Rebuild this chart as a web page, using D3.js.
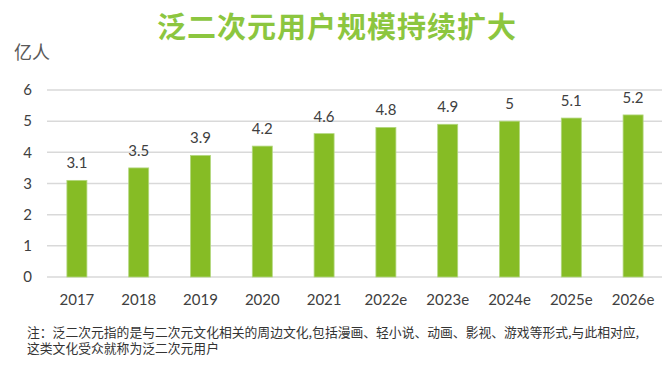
<!DOCTYPE html>
<html>
<head>
<meta charset="utf-8">
<script src="https://cdn.jsdelivr.net/npm/d3@7"></script>
<style>
  html, body { margin: 0; padding: 0; background: #fff; }
  svg { display: block; }
</style>
</head>
<body>
<svg id="chart" width="664" height="366"></svg>
<script>
const categories = ["2017", "2018", "2019", "2020", "2021", "2022e", "2023e", "2024e", "2025e", "2026e"];
const values = [3.1, 3.5, 3.9, 4.2, 4.6, 4.8, 4.9, 5, 5.1, 5.2];
const yTicks = [0, 1, 2, 3, 4, 5, 6];
const titleText = "泛二次元用户规模持续扩大";
const unitText = "亿人";
const noteLines = [
  "注：泛二次元指的是与二次元文化相关的周边文化,包括漫画、轻小说、动画、影视、游戏等形式,与此相对应,",
  "这类文化受众就称为泛二次元用户"
];

const svg = d3.select("#chart");
const cjk = "'Noto Sans CJK SC', 'Noto Sans', sans-serif";
const numFont = "Lato, 'Open Sans', sans-serif";

const x = d3.scaleBand().domain(categories).range([46, 664]).padding(0);
const y = d3.scaleLinear().domain([0, 6]).range([277, 90]);
const barW = 20;

// gridlines
svg.append("g")
  .selectAll("line")
  .data(yTicks)
  .join("line")
  .attr("x1", 47).attr("x2", 662)
  .attr("y1", d => y(d)).attr("y2", d => y(d))
  .attr("stroke", "#d9d9d9")
  .attr("stroke-width", 1.5);

// y tick labels
svg.append("g")
  .selectAll("text")
  .data(yTicks)
  .join("text")
  .attr("x", 32)
  .attr("y", d => y(d))
  .attr("dy", "0.35em")
  .attr("text-anchor", "end")
  .attr("font-family", numFont)
  .attr("font-size", 15)
  .attr("fill", "#404040")
  .text(d => d);

// bars
svg.append("g")
  .selectAll("rect")
  .data(values)
  .join("rect")
  .attr("x", (d, i) => x(categories[i]) + x.bandwidth() / 2 - barW / 2)
  .attr("y", d => y(d))
  .attr("width", barW)
  .attr("height", d => y(0) - y(d))
  .attr("fill", "#86bc25")
  .attr("stroke", "#b3d77f")
  .attr("stroke-width", 0.8);

// value labels
svg.append("g")
  .selectAll("text")
  .data(values)
  .join("text")
  .attr("x", (d, i) => x(categories[i]) + x.bandwidth() / 2)
  .attr("y", d => y(d) - 12)
  .attr("text-anchor", "middle")
  .attr("font-family", numFont)
  .attr("font-size", 15)
  .attr("fill", "#404040")
  .text(d => d);

// x labels
svg.append("g")
  .selectAll("text")
  .data(categories)
  .join("text")
  .attr("x", d => x(d) + x.bandwidth() / 2)
  .attr("y", 305)
  .attr("text-anchor", "middle")
  .attr("font-family", numFont)
  .attr("font-size", 15)
  .attr("fill", "#404040")
  .text(d => d);

// title
svg.append("text")
  .attr("x", 337)
  .attr("y", 38)
  .attr("text-anchor", "middle")
  .attr("font-family", cjk)
  .attr("font-size", 29)
  .attr("font-weight", "bold")
  .attr("letter-spacing", 1)
  .attr("fill", "#8cc63f")
  .text(titleText);

// unit
svg.append("text")
  .attr("x", 14)
  .attr("y", 59)
  .attr("font-family", cjk)
  .attr("font-size", 18)
  .attr("fill", "#595959")
  .text(unitText);

// note
svg.append("g")
  .selectAll("text")
  .data(noteLines)
  .join("text")
  .attr("x", 27)
  .attr("y", (d, i) => 336.5 + i * 16)
  .attr("font-family", cjk)
  .attr("font-size", 12.8)
  .attr("fill", "#333333")
  .text(d => d);
</script>
</body>
</html>
